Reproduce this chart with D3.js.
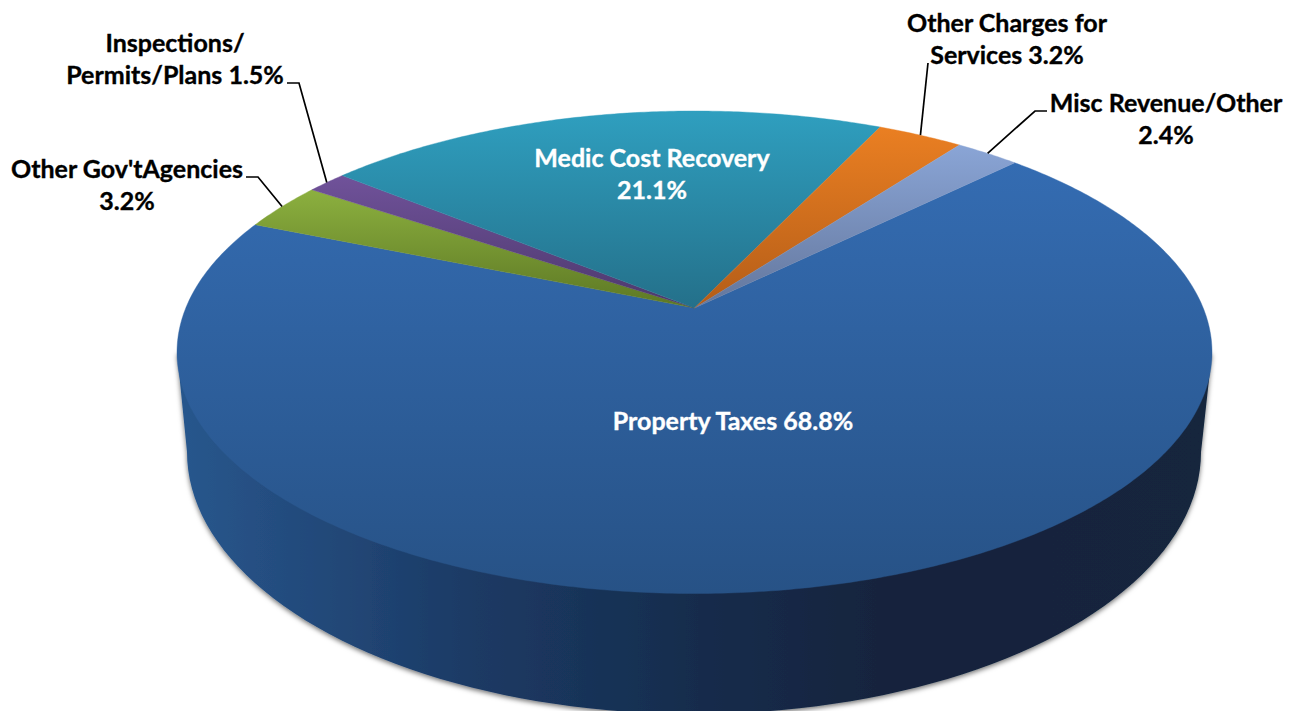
<!DOCTYPE html>
<html>
<head>
<meta charset="utf-8">
<script src="https://cdn.jsdelivr.net/npm/d3@7"></script>
<style>
  html, body { margin: 0; padding: 0; background: #fff; overflow: hidden; }
  text { font-family: Lato, "Open Sans", sans-serif; font-weight: 700; }
</style>
</head>
<body>
<script>
// Revenue shares, in drawing order clockwise from the upper right
const categories = ["Property Taxes", "Other Gov't Agencies", "Inspections/Permits/Plans",
                    "Medic Cost Recovery", "Other Charges for Services", "Misc Revenue/Other"];
const shares = [68.8, 3.2, 1.5, 21.1, 3.2, 2.4];
const topColors = ["#346cb2", "#8cb03f", "#70529a", "#2f9fbf", "#ea7f22", "#8aa5d6"];
const bottomColors = ["#275286", "#5d7824", "#4c386c", "#24708a", "#b45d18", "#63769c"];
const sideStops = [[187, "#28568c"], [460, "#1c3b66"], [700, "#162c4c"], [900, "#12233c"], [1201, "#12253d"]];

// Label text and placement, one row per slice
const labelLines = [
  ["Property Taxes 68.8%"], ["Other Gov'tAgencies", "3.2%"], ["Inspections/", "Permits/Plans 1.5%"],
  ["Medic Cost Recovery", "21.1%"], ["Other Charges for", "Services 3.2%"], ["Misc Revenue/Other", "2.4%"]
];
const labelX = [733, 127, 175, 652, 1007, 1166];
const labelBaseline = [430, 178, 52, 167, 32, 112];
const labelFill = ["#fff", "#000", "#000", "#fff", "#000", "#000"];
// Leader elbows: label-side end and bend, null for labels sitting on their slice
const leaderElbow = [null, [[246, 177], [258, 177]], [[287, 83], [299, 83]], null, [[928, 63], [928, 63]], [[1047, 111], [1035, 111]]];

const width = 1296, height = 711, lineGap = 32, fontSize = 25;

// Top face: a circle seen in perspective, so the pie centre sits above the ellipse centre
const cx = 694.5, apexY = 308, topY = 111, bottomY = 593.5, halfWidth = 517.5;
const C = (2 * apexY - topY - bottomY) / (bottomY - topY);
const A = (bottomY - topY) / 2 + C * (bottomY + topY) / 2;
const D = halfWidth * Math.sqrt(1 - C * C);
function facePoint(angle) {
  const u = Math.sin(angle), v = -Math.cos(angle), w = 1 + C * v;
  return [cx + D * u / w, (A * v + apexY) / w];
}

// Bottom rim of the extruded side
const rimCx = 694, rimCy = 452, rimRx = 507, rimRy = 262;

const svg = d3.select("body").append("svg")
  .attr("width", width).attr("height", height).attr("viewBox", [0, 0, width, height]);
const defs = svg.append("defs");

const startDeg = 45.3;
const pie = d3.pie().sort(null).startAngle(startDeg * Math.PI / 180).endAngle((startDeg + 360) * Math.PI / 180);
const arcs = pie(shares);
const line = d3.line();

// Side wall with its soft contact shadow
const shadow = defs.append("filter").attr("id", "rimShadow")
  .attr("x", "-5%").attr("y", "-5%").attr("width", "110%").attr("height", "110%");
shadow.append("feDropShadow").attr("dx", 0).attr("dy", 2).attr("stdDeviation", 2.6)
  .attr("flood-color", "#000").attr("flood-opacity", 0.55);

const sideGrad = defs.append("linearGradient").attr("id", "sideGrad")
  .attr("gradientUnits", "userSpaceOnUse").attr("x1", 187).attr("x2", 1201).attr("y1", 0).attr("y2", 0);
sideGrad.selectAll("stop").data(sideStops).join("stop")
  .attr("offset", d => (d[0] - 187) / (1201 - 187)).attr("stop-color", d => d[1]);

const rimPoints = d3.range(0, 181, 2).map(deg => {
  const t = (180 - deg) * Math.PI / 180;
  return [rimCx + rimRx * Math.cos(t), rimCy + rimRy * Math.sin(t)];
});
svg.append("path")
  .attr("d", line([[cx - halfWidth, (topY + bottomY) / 2], ...rimPoints, [cx + halfWidth, (topY + bottomY) / 2]]) + "Z")
  .attr("fill", "url(#sideGrad)").attr("filter", "url(#rimShadow)");

// Top face slices, each shaded from its own outer edge down to the lowest point it reaches
function slicePoints(d) {
  const n = Math.max(4, Math.ceil((d.endAngle - d.startAngle) / 0.01));
  return d3.range(n + 1).map(i => facePoint(d.startAngle + (d.endAngle - d.startAngle) * i / n));
}
arcs.forEach((d, i) => {
  const pts = slicePoints(d);
  const ys = pts.map(p => p[1]).concat(apexY);
  const g = defs.append("linearGradient").attr("id", "slice" + i)
    .attr("gradientUnits", "userSpaceOnUse")
    .attr("x1", 0).attr("x2", 0).attr("y1", d3.min(ys)).attr("y2", d3.max(ys));
  g.append("stop").attr("offset", 0).attr("stop-color", topColors[i]);
  g.append("stop").attr("offset", 1).attr("stop-color", bottomColors[i]);
  svg.append("path")
    .attr("d", line([[cx, apexY], ...pts]) + "Z")
    .attr("fill", `url(#slice${i})`)
    .attr("stroke", `url(#slice${i})`).attr("stroke-width", 0.4);
});

// Leader lines run from the label to the middle of the slice's outer edge
arcs.forEach((d, i) => {
  if (!leaderElbow[i]) return;
  const end = facePoint((d.startAngle + d.endAngle) / 2);
  svg.append("path").attr("d", line([...leaderElbow[i], end]))
    .attr("fill", "none").attr("stroke", "#000").attr("stroke-width", 1.7);
});

// Data labels
labelLines.forEach((rows, i) => {
  const t = svg.append("text").attr("text-anchor", "middle")
    .attr("font-size", fontSize).attr("fill", labelFill[i])
    .attr("stroke", labelFill[i]).attr("stroke-width", 0.35);
  rows.forEach((row, j) => {
    t.append("tspan").attr("x", labelX[i]).attr("y", labelBaseline[i] + j * lineGap).text(row);
  });
});
</script>
</body>
</html>
